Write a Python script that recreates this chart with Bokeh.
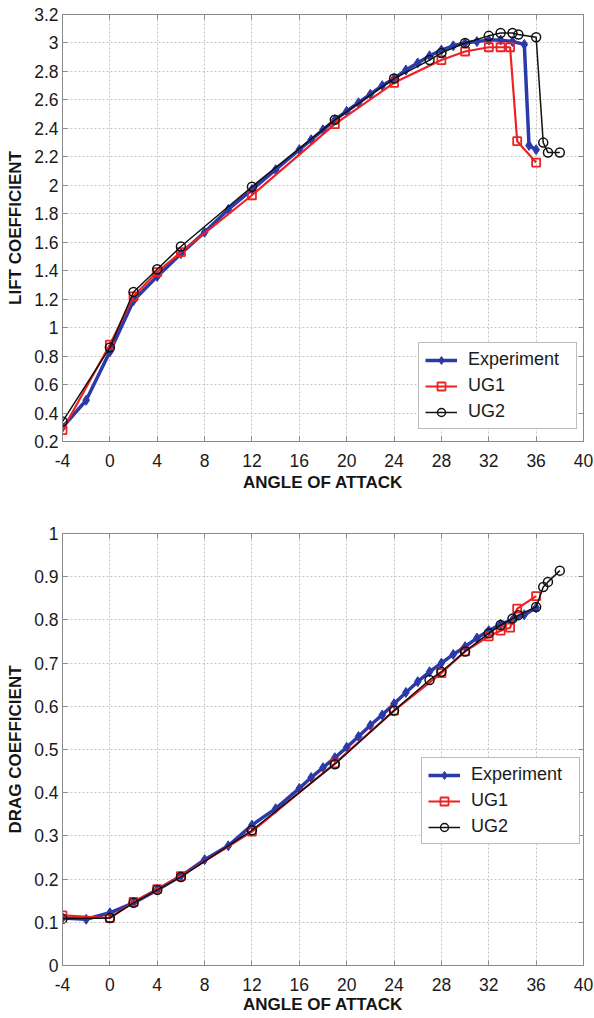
from bokeh.plotting import figure
from bokeh.layouts import column
from bokeh.models import Range1d, FixedTicker, CustomJSTickFormatter, LinearAxis
from bokeh.embed import file_html
from bokeh.resources import INLINE

# ---------------- data ----------------
angle_ticks = [-4, 0, 4, 8, 12, 16, 20, 24, 28, 32, 36, 40]
lift_ticks = [0.2, 0.4, 0.6, 0.8, 1.0, 1.2, 1.4, 1.6, 1.8, 2.0, 2.2, 2.4, 2.6, 2.8, 3.0, 3.2]
drag_ticks = [0.0, 0.1, 0.2, 0.3, 0.4, 0.5, 0.6, 0.7, 0.8, 0.9, 1.0]

# Lift coefficient
exp_lift_x = [-4, -2, 0, 2, 4, 6, 8, 10, 12, 14, 16, 17, 18, 19, 20, 21, 22, 23, 24, 25,
              26, 27, 28, 29, 30, 31, 32, 33, 34, 35, 35.4, 36]
exp_lift_y = [0.30, 0.49, 0.83, 1.19, 1.36, 1.52, 1.67, 1.83, 1.97, 2.11, 2.25, 2.32, 2.39,
              2.46, 2.52, 2.58, 2.64, 2.70, 2.75, 2.81, 2.86, 2.91, 2.95, 2.98, 3.00, 3.01,
              3.02, 3.02, 3.01, 2.99, 2.28, 2.25]
ug1_lift_x = [-4, 0, 2, 4, 6, 12, 19, 24, 28, 30, 32, 33, 33.8, 34.4, 36]
ug1_lift_y = [0.28, 0.88, 1.22, 1.39, 1.53, 1.93, 2.43, 2.72, 2.88, 2.94, 2.97, 2.97, 2.97,
              2.31, 2.16]
ug2_lift_x = [-4, 0, 2, 4, 6, 12, 19, 24, 27, 28, 30, 32, 33, 34, 34.5, 36, 36.6, 37, 38]
ug2_lift_y = [0.34, 0.86, 1.25, 1.41, 1.57, 1.99, 2.46, 2.75, 2.88, 2.93, 3.00, 3.05, 3.07,
              3.07, 3.06, 3.04, 2.30, 2.23, 2.23]

# Drag coefficient
exp_drag_x = [-4, -2, 0, 2, 4, 6, 8, 10, 12, 14, 16, 17, 18, 19, 20, 21, 22, 23, 24, 25,
              26, 27, 28, 29, 30, 31, 32, 33, 34, 35, 36]
exp_drag_y = [0.110, 0.107, 0.122, 0.145, 0.175, 0.207, 0.245, 0.277, 0.325, 0.363, 0.410,
              0.435, 0.458, 0.481, 0.505, 0.530, 0.556, 0.580, 0.606, 0.632, 0.657, 0.680,
              0.700, 0.720, 0.738, 0.758, 0.775, 0.790, 0.800, 0.812, 0.828]
ug1_drag_x = [-4, 0, 2, 4, 6, 12, 19, 24, 28, 30, 32, 33, 33.8, 34.4, 36]
ug1_drag_y = [0.116, 0.110, 0.147, 0.177, 0.207, 0.310, 0.468, 0.590, 0.677, 0.727, 0.762,
              0.775, 0.782, 0.826, 0.855]
ug2_drag_x = [-4, 0, 2, 4, 6, 12, 19, 24, 27, 28, 30, 32, 33, 34, 34.5, 36, 36.6, 37, 38]
ug2_drag_y = [0.108, 0.110, 0.145, 0.175, 0.205, 0.313, 0.466, 0.590, 0.661, 0.680, 0.727,
              0.769, 0.788, 0.803, 0.811, 0.830, 0.876, 0.888, 0.914]

labels = ["Experiment", "UG1", "UG2"]

# ---------------- styling ----------------
FONT = "Liberation Sans"
GRID = "#c4c4c4"
FRAME = "#8a8a8a"
BLUE = "#2b3aa8"
RED = "#ee2222"
BLACK = "#111111"

num_fmt = "var s = tick.toFixed(1); if (s.endsWith('.0')) { s = s.slice(0, -2); } return s;"
int_fmt = "return tick.toFixed(0);"


def make_fig(height, ylo, yhi, yticks, ylabel, border_top, border_left, border_bottom,
             label_standoff, axis_standoff):
    p = figure(width=594, height=height, output_backend="svg", toolbar_location=None,
               x_range=Range1d(-4, 40), y_range=Range1d(ylo, yhi),
               min_border_top=border_top, min_border_left=border_left,
               min_border_right=11, min_border_bottom=border_bottom,
               background_fill_color="white", border_fill_color="white")
    p.outline_line_color = FRAME
    p.outline_line_width = 1

    xt = FixedTicker(ticks=angle_ticks)
    yt = FixedTicker(ticks=yticks)
    xa = p.xaxis[0]
    ya = p.yaxis[0]
    xa.ticker = xt
    ya.ticker = yt
    p.xgrid.ticker = xt
    p.ygrid.ticker = yt
    xa.formatter = CustomJSTickFormatter(code=int_fmt)
    ya.formatter = CustomJSTickFormatter(code=num_fmt)
    for ax in (xa, ya):
        ax.axis_line_color = FRAME
        ax.major_tick_line_color = FRAME
        ax.major_tick_in = 5
        ax.major_tick_out = 0
        ax.minor_tick_line_color = None
        ax.major_label_text_font = FONT
        ax.major_label_text_font_size = "17.5px"
        ax.major_label_text_color = "#1a1a1a"
        ax.axis_label_text_font = FONT
        ax.axis_label_text_font_size = "17px"
        ax.axis_label_text_font_style = "bold"
        ax.axis_label_text_color = "#151515"
    xa.axis_label = "ANGLE OF ATTACK"
    ya.axis_label = ylabel
    xa.major_label_standoff = label_standoff
    xa.axis_label_standoff = axis_standoff
    ya.major_label_standoff = 4
    ya.axis_label_standoff = 6

    for g in (p.xgrid, p.ygrid):
        g.grid_line_color = GRID
        g.grid_line_dash = "2 2"
        g.grid_line_width = 1

    # inward ticks on the top and right sides of the box
    for side, t in (("right", yt), ("above", xt)):
        ax = LinearAxis(ticker=t, formatter=CustomJSTickFormatter(code="return '';"),
                        axis_line_color=None, major_tick_line_color=FRAME,
                        major_tick_in=5, major_tick_out=0, minor_tick_line_color=None,
                        major_label_text_font_size="0px", major_label_standoff=0)
        p.add_layout(ax, side)
    return p


def draw(p, xs, ys, color, lw, marker, msize, fill, mlw, label):
    p.line(xs, ys, line_color=color, line_width=lw, legend_label=label)
    p.scatter(xs, ys, marker=marker, size=msize, line_color=color, fill_color=fill,
              line_width=mlw, legend_label=label)


def style_legend(p, loc):
    lg = p.legend[0]
    lg.location = loc
    lg.margin = 0
    lg.padding = 6
    lg.spacing = 5
    lg.label_height = 20
    lg.glyph_height = 20
    lg.glyph_width = 32
    lg.label_standoff = 11
    lg.label_width = 102
    lg.label_text_font = FONT
    lg.label_text_font_size = "18px"
    lg.label_text_color = "#1a1a1a"
    lg.border_line_color = "#7a7a7a"
    lg.border_line_width = 1
    lg.background_fill_color = "white"
    lg.background_fill_alpha = 1


# ---------------- lift ----------------
p1 = make_fig(523, 0.2, 3.2, lift_ticks, "LIFT COEFFICIENT", 14, 62, 82, 12, 3)
draw(p1, exp_lift_x, exp_lift_y, BLUE, 3.5, "diamond", 10, BLUE, 1, labels[0])
draw(p1, ug1_lift_x, ug1_lift_y, RED, 2.2, "square", 8, None, 1.8, labels[1])
draw(p1, ug2_lift_x, ug2_lift_y, BLACK, 1.5, "circle", 9, None, 1.5, labels[2])
style_legend(p1, (356, 12))

# ---------------- drag ----------------
p2 = make_fig(493, 0.0, 1.0, drag_ticks, "DRAG COEFFICIENT", 10, 58, 49, 12, 1)
draw(p2, exp_drag_x, exp_drag_y, BLUE, 3.5, "diamond", 10, BLUE, 1, labels[0])
draw(p2, ug1_drag_x, ug1_drag_y, RED, 2.2, "square", 8, None, 1.8, labels[1])
draw(p2, ug2_drag_x, ug2_drag_y, BLACK, 1.5, "circle", 9, None, 1.5, labels[2])
style_legend(p2, (359, 121))

layout = column(p1, p2, spacing=0)
open("out.html", "w").write(file_html(layout, INLINE))
